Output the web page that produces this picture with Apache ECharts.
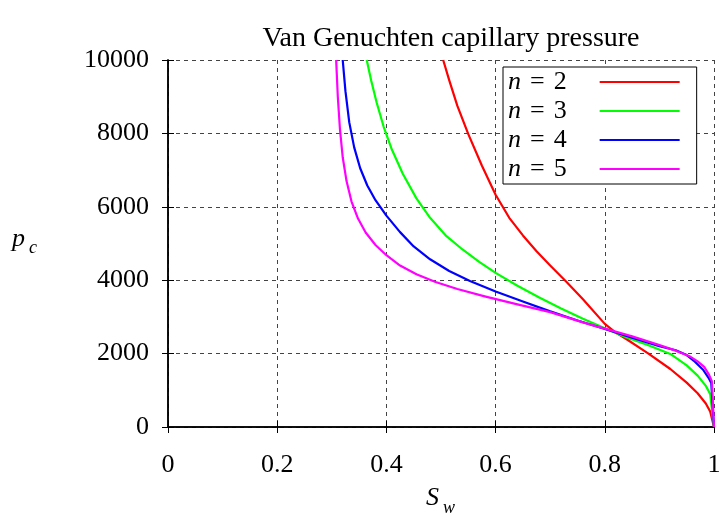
<!DOCTYPE html>
<html>
<head>
<meta charset="utf-8">
<script src="https://cdn.jsdelivr.net/npm/echarts@6/dist/echarts.min.js"></script>
<style>
  html, body { margin: 0; padding: 0; background: #fff; }
  #chart { width: 725px; height: 522px; }
</style>
</head>
<body>
<div id="chart"></div>
<script>
// values
const seriesNames = ["2", "3", "4", "5"];
const colors = ["#ff0000", "#00ff00", "#0000ff", "#ff00ff"];

const sw2 = [0.504, 0.515, 0.530, 0.550, 0.575, 0.600, 0.625, 0.650, 0.675, 0.700, 0.730, 0.760, 0.800, 0.820, 0.840, 0.880, 0.920, 0.950, 0.970, 0.985, 0.993, 1.0];
const pc2 = [10000, 9450, 8750, 7980, 7120, 6330, 5700, 5220, 4790, 4400, 3950, 3480, 2810, 2570, 2390, 2000, 1580, 1210, 920, 640, 420, 0];

const sw3 = [0.364, 0.372, 0.382, 0.395, 0.410, 0.430, 0.455, 0.480, 0.510, 0.540, 0.570, 0.600, 0.640, 0.680, 0.720, 0.760, 0.800, 0.840, 0.880, 0.920, 0.950, 0.970, 0.985, 0.993, 1.0];
const pc3 = [10000, 9450, 8850, 8180, 7560, 6900, 6230, 5700, 5200, 4830, 4500, 4200, 3850, 3530, 3230, 2950, 2690, 2440, 2230, 1990, 1680, 1400, 1120, 900, 0];

const sw4 = [0.320, 0.325, 0.332, 0.341, 0.352, 0.365, 0.380, 0.400, 0.425, 0.450, 0.480, 0.515, 0.553, 0.600, 0.650, 0.700, 0.750, 0.800, 0.850, 0.900, 0.930, 0.950, 0.965, 0.980, 0.990, 0.995, 1.0];
const pc4 = [10000, 9150, 8300, 7620, 7050, 6580, 6180, 5760, 5310, 4920, 4570, 4250, 3980, 3690, 3420, 3150, 2900, 2670, 2430, 2200, 2090, 1960, 1780, 1560, 1340, 1200, 0];

const sw5 = [0.308, 0.311, 0.315, 0.320, 0.327, 0.336, 0.348, 0.362, 0.380, 0.400, 0.425, 0.455, 0.490, 0.530, 0.580, 0.640, 0.700, 0.760, 0.800, 0.850, 0.900, 0.930, 0.955, 0.970, 0.982, 0.991, 0.996, 1.0];
const pc5 = [10000, 9000, 8100, 7350, 6700, 6150, 5680, 5300, 4960, 4680, 4400, 4160, 3950, 3760, 3560, 3340, 3130, 2850, 2680, 2470, 2230, 2080, 1930, 1790, 1640, 1420, 1250, 0];

const yTicks = [0, 2000, 4000, 6000, 8000, 10000];
const xTicks = [0, 0.2, 0.4, 0.6, 0.8, 1];

const swAll = [sw2, sw3, sw4, sw5];
const pcAll = [pc2, pc3, pc4, pc5];

const font = "'Liberation Serif', 'DejaVu Serif', serif";
const gridLine = { show: true, lineStyle: { color: "#444", type: [4, 4], width: 1 } };

const chart = echarts.init(document.getElementById("chart"));

const series = seriesNames.map((n, i) => ({
  name: n,
  type: "line",
  xAxisIndex: 0,
  yAxisIndex: 0,
  symbol: "none",
  smooth: false,
  lineStyle: { width: 2.2, color: colors[i], join: "round" },
  itemStyle: { color: colors[i] },
  data: swAll[i].map((s, k) => [s, pcAll[i][k]])
}));

const option = {
  animation: false,
  textStyle: { fontFamily: font },
  title: {
    text: "Van Genuchten capillary pressure",
    left: 446,
    textAlign: "center",
    top: 20,
    textStyle: { fontFamily: font, fontWeight: "normal", fontSize: 28, color: "#000" }
  },
  grid: { left: 168, right: 11, top: 60, bottom: 95 },
  legend: {
    orient: "vertical",
    left: 503,
    top: 67,
    align: "right",
    icon: "rect",
    itemWidth: 80,
    itemHeight: 2,
    itemGap: 3,
    padding: [2, 17, 2, 5],
    borderColor: "#000",
    borderWidth: 1,
    backgroundColor: "#fff",
    data: seriesNames,
    formatter: name => "{i|n}{e|=}{d|" + name + "}{g|}",
    textStyle: {
      fontFamily: font,
      fontSize: 26,
      lineHeight: 26,
      color: "#000",
      rich: {
        i: { fontFamily: font, fontStyle: "italic", fontSize: 26, color: "#000" },
        e: { fontFamily: font, fontSize: 26, color: "#000", padding: [0, 9, 0, 9] },
        d: { fontFamily: font, fontSize: 26, color: "#000" },
        g: { width: 28 }
      }
    }
  },
  xAxis: [
    {
      type: "value",
      min: xTicks[0],
      max: xTicks[xTicks.length - 1],
      interval: 0.2,
      axisLine: { show: true, lineStyle: { color: "#000", width: 1.5 } },
      axisTick: { show: true, inside: true, length: 6, lineStyle: { color: "#000" } },
      axisLabel: { fontFamily: font, fontSize: 26, color: "#000", margin: 25,
        formatter: v => String(+v.toFixed(1)) },
      splitLine: gridLine
    },
    {
      type: "value",
      position: "top",
      min: xTicks[0],
      max: xTicks[xTicks.length - 1],
      interval: 0.2,
      axisLine: { show: true, lineStyle: { color: "#000", width: 1.5 } },
      axisTick: { show: true, inside: true, length: 6, lineStyle: { color: "#000" } },
      axisLabel: { show: false },
      splitLine: { show: false }
    }
  ],
  yAxis: [
    {
      type: "value",
      min: yTicks[0],
      max: yTicks[yTicks.length - 1],
      interval: 2000,
      axisLine: { show: true, lineStyle: { color: "#000", width: 1.5 } },
      axisTick: { show: true, inside: true, length: 6, lineStyle: { color: "#000" } },
      axisLabel: { fontFamily: font, fontSize: 26, color: "#000", margin: 19,
        formatter: v => String(v) },
      splitLine: gridLine
    },
    {
      type: "value",
      position: "right",
      min: yTicks[0],
      max: yTicks[yTicks.length - 1],
      interval: 2000,
      axisLine: { show: true, lineStyle: { color: "#000", width: 1.5 } },
      axisTick: { show: true, inside: true, length: 6, lineStyle: { color: "#000" } },
      axisLabel: { show: false },
      splitLine: { show: false }
    }
  ],
  graphic: [
    { type: "text", left: 426, top: 485, style: { text: "S", font: "italic 26px " + font, fill: "#000" } },
    { type: "text", left: 443, top: 499, style: { text: "w", font: "italic 18px " + font, fill: "#000" } },
    { type: "text", left: 12, top: 226, style: { text: "p", font: "italic 26px " + font, fill: "#000" } },
    { type: "text", left: 29, top: 239, style: { text: "c", font: "italic 18px " + font, fill: "#000" } }
  ],
  series: series
};

chart.setOption(option);
</script>
</body>
</html>
